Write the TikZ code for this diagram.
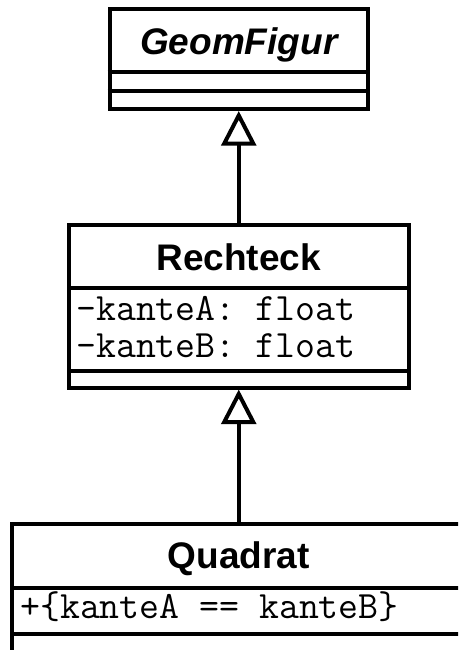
\documentclass[tikz,border=0pt]{standalone}
\usepackage{fontspec}
\setmainfont{Liberation Sans}
\usetikzlibrary{arrows.meta}

\begin{document}
\begin{tikzpicture}[x=0.75pt, y=-0.75pt,
  classbox/.style={draw, line width=3pt, fill=white, inner sep=0pt},
  classname/.style={anchor=base, inner sep=0pt,
    font=\fontsize{27.75}{33}\selectfont\bfseries},
  member/.style={anchor=base west, inner sep=0pt,
    font=\fontsize{29}{34}\selectfont\ttfamily},
  divider/.style={line width=3pt},
  inherit/.style={line width=3pt, -{Triangle[open, length=26pt, width=26pt]}}]
  \useasboundingbox (0,0) rectangle (458,650);
  \clip (0,0) rectangle (458,650);

  % Klassenkaesten (Quadrat ragt unten/rechts heraus)
  \node[classbox, minimum width=193.875pt, minimum height=75pt]
    (geom) at (238.75,59) {};
  \node[classbox, minimum width=254.625pt, minimum height=122.25pt]
    (rechteck) at (238.75,306) {};
  \node[classbox, minimum width=340pt, minimum height=95.625pt]
    (quadrat) at (238.75,587.75) {};

  % Trennlinien der Abschnitte
  \draw[divider] (geom.west |- 0,72)      -- (geom.east |- 0,72);
  \draw[divider] (geom.west |- 0,90.5)    -- (geom.east |- 0,90.5);
  \draw[divider] (rechteck.west |- 0,287.5) -- (rechteck.east |- 0,287.5);
  \draw[divider] (rechteck.west |- 0,370.5) -- (rechteck.east |- 0,370.5);
  \draw[divider] (quadrat.west |- 0,587.5) -- (quadrat.east |- 0,587.5);
  \draw[divider] (quadrat.west |- 0,634)   -- (quadrat.east |- 0,634);

  % Vererbung
  \draw[inherit] (rechteck) -- (geom);
  \draw[inherit] (quadrat) -- (rechteck);

  % Namen und Attribute
  \node[classname] (geomName)     at (238.75,54)  {\itshape GeomFigur};
  \node[classname] (rechteckName) at (238.75,270) {Rechteck};
  \node[member]    (kanteA)       at (76,320)     {-kanteA: float};
  \node[member]    (kanteB)       at (76,357)     {-kanteB: float};
  \node[classname] (quadratName)  at (238.75,568) {Quadrat};
  \node[member]    (gleich)       at (20,618)     {+\{kanteA == kanteB\}};
\end{tikzpicture}
\end{document}
